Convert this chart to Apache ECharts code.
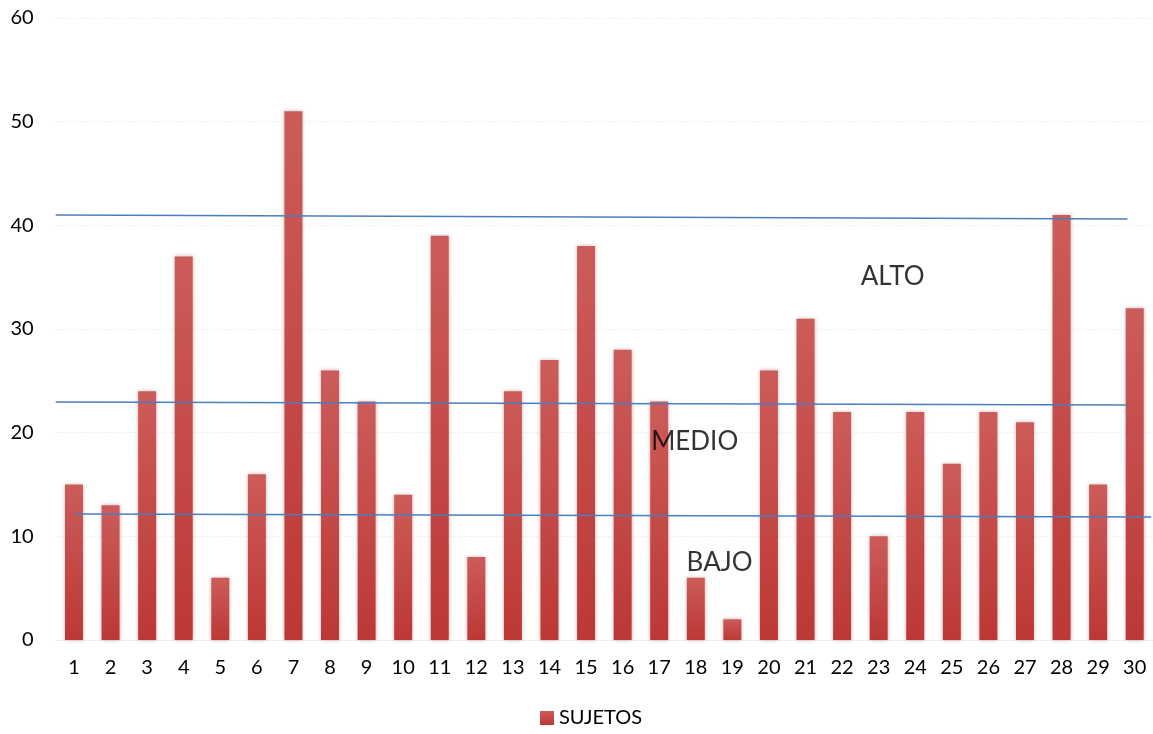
<!DOCTYPE html>
<html>
<head>
<meta charset="utf-8">
<script src="https://cdn.jsdelivr.net/npm/echarts@6/dist/echarts.min.js"></script>
<style>html,body{margin:0;padding:0;background:#fff}#c{width:1153px;height:734px}</style>
</head>
<body>
<div id="c"></div>
<script>
const categories = ['1','2','3','4','5','6','7','8','9','10','11','12','13','14','15','16','17','18','19','20','21','22','23','24','25','26','27','28','29','30'];
const sujetos = [15,13,24,37,6,16,51,26,23,14,39,8,24,27,38,28,23,6,2,26,31,22,10,22,17,22,21,41,15,32];
const yTicks = [0,10,20,30,40,50,60];
// threshold lines, [categoryIndex, value] pairs
const altoLine = [[-0.5, 41.0], [28.8, 40.6]];
const medioLine = [[-0.5, 22.95], [28.8, 22.66]];
const bajoLine = [[0.03, 12.15], [29.45, 11.86]];
// label annotations
const levelLabels = [
  {name: 'ALTO', value: [22.38, 35.1]},
  {name: 'MEDIO', value: [16.97, 19.1]},
  {name: 'BAJO', value: [17.65, 7.5]}
];

const font = 'Lato, "Open Sans", "Liberation Sans", sans-serif';
const chart = echarts.init(document.getElementById('c'), null, {renderer: 'canvas'});
const lineStyle = {color: '#4a7ebb', width: 1.5};
function lineSeries(d) {
  return {type: 'line', xAxisIndex: 1, yAxisIndex: 0, data: d, symbol: 'none',
    lineStyle: lineStyle, silent: true, z: 5, animation: false};
}
chart.setOption({
  animation: false,
  grid: {left: 55.7, width: 1099.6, top: 18, bottom: 94, containLabel: false},
  legend: {
    bottom: 1, left: 535, itemWidth: 14, itemHeight: 14, icon: 'rect', itemGap: 6,
    data: ['SUJETOS'],
    textStyle: {fontFamily: font, fontSize: 20, color: '#000'}
  },
  xAxis: [{
    type: 'category', data: categories,
    axisLine: {show: true, lineStyle: {color: '#eeeeee'}},
    axisTick: {show: false},
    axisLabel: {fontFamily: font, fontSize: 20, color: '#000', margin: 18}
  }, {
    type: 'value', min: -0.5, max: 29.5, show: false
  }],
  yAxis: {
    type: 'value', min: yTicks[0], max: yTicks[yTicks.length - 1], interval: 10,
    axisLine: {show: false}, axisTick: {show: false},
    axisLabel: {fontFamily: font, fontSize: 20, color: '#000', margin: 22},
    splitLine: {show: true, lineStyle: {color: '#f3f3f3', type: 'dashed'}}
  },
  series: [{
    name: 'SUJETOS', type: 'bar', data: sujetos, barWidth: 18,
    itemStyle: {
      color: new echarts.graphic.LinearGradient(0, 0, 0, 1, [
        {offset: 0, color: '#cc5c5a'}, {offset: 1, color: '#bc3836'}
      ]),
      shadowColor: 'rgba(120,40,40,0.35)', shadowBlur: 4
    }
  },
  lineSeries(altoLine), lineSeries(medioLine), lineSeries(bajoLine),
  {
    type: 'scatter', xAxisIndex: 1, yAxisIndex: 0, symbolSize: 0, silent: true, z: 6,
    data: levelLabels,
    label: {show: true, position: 'inside', formatter: p => p.name,
      fontFamily: font, fontSize: 26, color: '#000'}
  }]
});
</script>
</body>
</html>
